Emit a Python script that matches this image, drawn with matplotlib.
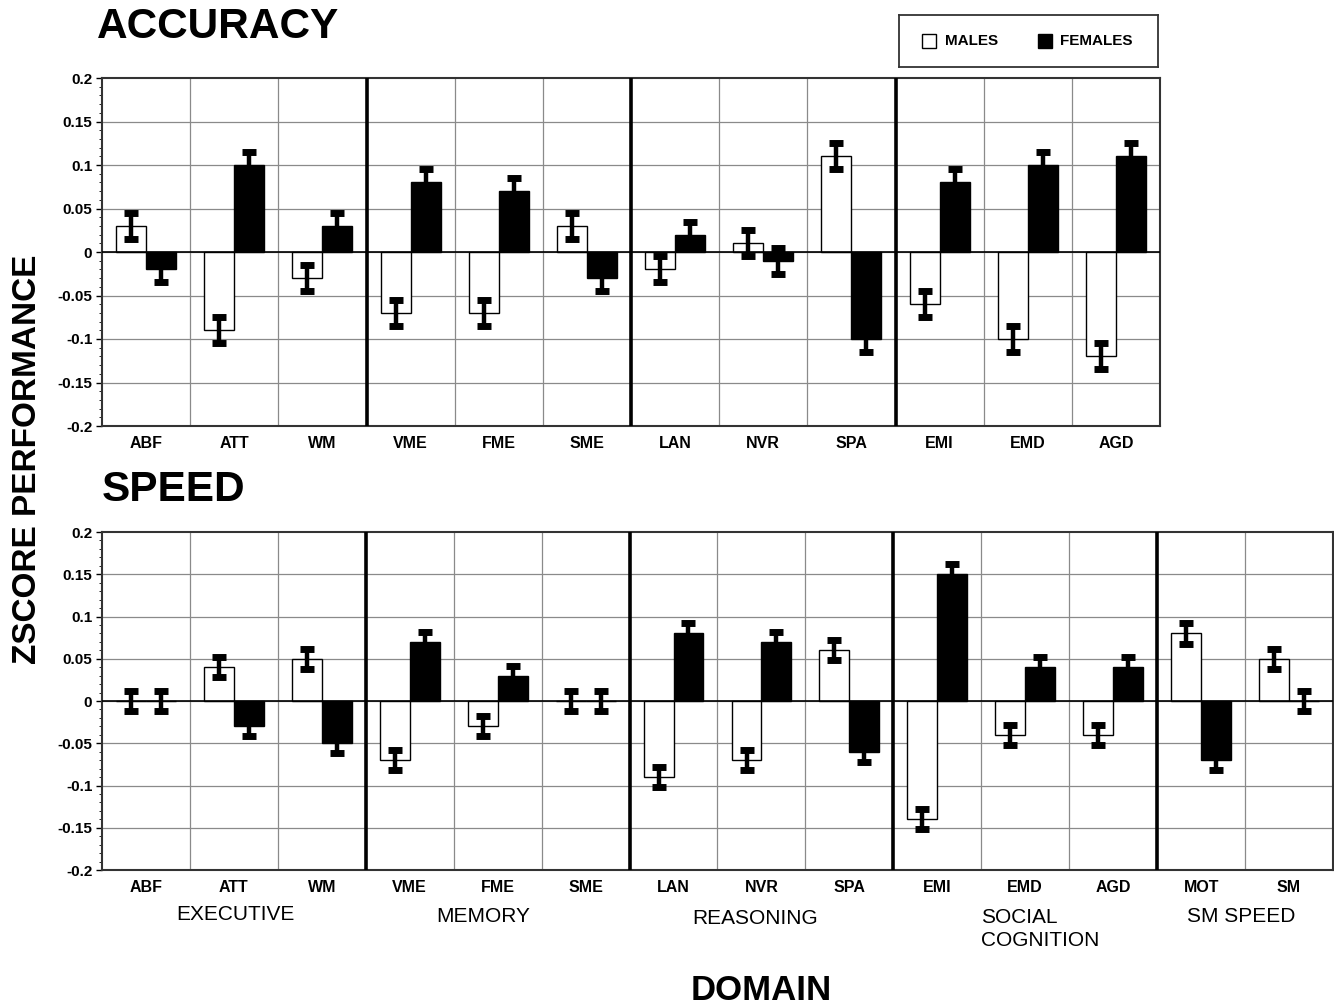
import numpy as np
import matplotlib
matplotlib.use("Agg")
from matplotlib import pyplot as plt
from matplotlib.patches import Rectangle

# test categories per panel
acc_tests = ["ABF", "ATT", "WM", "VME", "FME", "SME", "LAN", "NVR", "SPA", "EMI", "EMD", "AGD"]
spd_tests = ["ABF", "ATT", "WM", "VME", "FME", "SME", "LAN", "NVR", "SPA", "EMI", "EMD", "AGD", "MOT", "SM"]

# z-score means
acc_males = [0.03, -0.09, -0.03, -0.07, -0.07, 0.03, -0.02, 0.01, 0.11, -0.06, -0.10, -0.12]
acc_females = [-0.02, 0.10, 0.03, 0.08, 0.07, -0.03, 0.02, -0.01, -0.10, 0.08, 0.10, 0.11]
spd_males = [0.0, 0.04, 0.05, -0.07, -0.03, 0.0, -0.09, -0.07, 0.06, -0.14, -0.04, -0.04, 0.08, 0.05]
spd_females = [0.0, -0.03, -0.05, 0.07, 0.03, 0.0, 0.08, 0.07, -0.06, 0.15, 0.04, 0.04, -0.07, 0.0]

# standard errors
acc_err = 0.015
spd_err = 0.012

domains = ["EXECUTIVE", "MEMORY", "REASONING", "SOCIAL\nCOGNITION", "SM SPEED"]
yticks = [-0.2, -0.15, -0.1, -0.05, 0, 0.05, 0.1, 0.15, 0.2]
ytick_labels = ["-0.2", "-0.15", "-0.1", "-0.05", "0", "0.05", "0.1", "0.15", "0.2"]

plt.rcParams["font.family"] = ["Liberation Sans", "DejaVu Sans"]

W, H = 1334, 1006
fig = plt.figure(figsize=(W / 100, H / 100), dpi=100)


def px_axes(x0, y0, x1, y1):
    return fig.add_axes([x0 / W, 1 - y1 / H, (x1 - x0) / W, (y1 - y0) / H])


def draw_panel(ax, tests, males, females, err):
    n = len(tests)
    x = np.arange(n)
    bw = 0.34
    ax.set_xlim(-0.5, n - 0.5)
    ax.set_ylim(-0.2, 0.2)

    # grid
    for yv in yticks[1:-1]:
        ax.axhline(yv, color="#8a8a8a", lw=0.9, zorder=0)
    for b in range(1, n):
        if b % 3 == 0:
            ax.axvline(b - 0.5, color="black", lw=2.6, zorder=4)
        else:
            ax.axvline(b - 0.5, color="#8a8a8a", lw=0.9, zorder=0)

    ax.bar(x - bw / 2, males, width=bw, color="white", edgecolor="black", lw=1.0, zorder=2)
    ax.bar(x + bw / 2, females, width=bw, color="black", edgecolor="black", lw=1.0, zorder=2)
    ax.axhline(0, color="black", lw=1.2, zorder=3)

    ekw = dict(fmt="none", ecolor="black", elinewidth=3.2, capsize=5, capthick=5, zorder=5)
    ax.errorbar(x - bw / 2, males, yerr=err, **ekw)
    ax.errorbar(x + bw / 2, females, yerr=err, **ekw)

    ax.set_xticks(x)
    ax.set_xticklabels(tests, fontsize=11.5, fontweight="bold")
    ax.tick_params(axis="x", length=0, pad=7)
    ax.set_yticks(yticks)
    ax.set_yticklabels(ytick_labels, fontsize=11, fontweight="bold")
    ax.set_yticks(np.arange(-0.2, 0.2001, 0.01), minor=True)
    ax.tick_params(axis="y", which="major", length=4, width=1, pad=3)
    ax.tick_params(axis="y", which="minor", length=2, width=0.6)
    for s in ax.spines.values():
        s.set_linewidth(1.5)
        s.set_color("#333333")


ax1 = px_axes(102, 78, 1160, 426)
draw_panel(ax1, acc_tests, acc_males, acc_females, acc_err)

ax2 = px_axes(102, 532, 1333, 870)
draw_panel(ax2, spd_tests, spd_males, spd_females, spd_err)

# panel titles
fig.text(97 / W, 1 - 27 / H, "ACCURACY", fontsize=30.5, fontweight="bold", ha="left", va="center")
fig.text(102 / W, 1 - 490 / H, "SPEED", fontsize=30.5, fontweight="bold", ha="left", va="center")
fig.text(28 / W, 1 - 459 / H, "ZSCORE PERFORMANCE", fontsize=24, fontweight="bold",
         rotation=90, ha="center", va="center")
fig.text(761 / W, 1 - 990 / H, "DOMAIN", fontsize=25, fontweight="bold", ha="center",
         va="center")

# domain names under the speed panel
dom_pos = [(235, 915, "center"), (483, 917, "center"), (755, 918, "center"),
           (981, 929, "left"), (1241, 917, "center")]
for name, (px, py, ha) in zip(domains, dom_pos):
    fig.text(px / W, 1 - py / H, name, fontsize=15, ha=ha, va="center", linespacing=1.3)

# legend box
lax = px_axes(899, 15, 1158, 67)
lax.set_xlim(0, 259)
lax.set_ylim(52, 0)
lax.set_xticks([])
lax.set_yticks([])
for s in lax.spines.values():
    s.set_linewidth(1.3)
    s.set_color("#333333")
lax.add_patch(Rectangle((23, 19), 14, 14, facecolor="white", edgecolor="black", lw=1))
lax.text(46, 26, "MALES", fontsize=11, fontweight="bold", va="center", ha="left")
lax.add_patch(Rectangle((139, 19), 14, 14, facecolor="black", edgecolor="black", lw=1))
lax.text(161, 26, "FEMALES", fontsize=11, fontweight="bold", va="center", ha="left")

fig.savefig("out.png", dpi=100, facecolor="white")
